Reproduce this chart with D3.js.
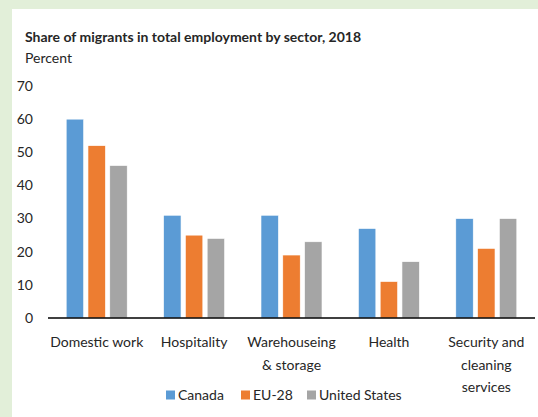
<!DOCTYPE html>
<html>
<head>
<meta charset="utf-8">
<script src="https://cdn.jsdelivr.net/npm/d3@7"></script>
<style>
  body { margin: 0; background: #e2efd9; }
  svg { display: block; }
  text { font-family: Lato, "Open Sans", sans-serif; fill: #262626; }
</style>
</head>
<body>
<script>
var sectors = [["Domestic work"], ["Hospitality"], ["Warehouseing", "& storage"], ["Health"], ["Security and", "cleaning", "services"]];
var seriesNames = ["Canada", "EU-28", "United States"];
var canada = [60, 31, 31, 27, 30];
var eu28 = [52, 25, 19, 11, 21];
var unitedStates = [46, 24, 23, 17, 30];
var yTicks = [0, 10, 20, 30, 40, 50, 60, 70];
var colors = ["#5b9bd5", "#ed7d31", "#a5a5a5"];

var width = 538,
    height = 417;

var svg = d3.select("body")
  .append("svg")
  .attr("width", width)
  .attr("height", height);

svg.append("rect")
    .attr("x", 12)
    .attr("y", 9)
    .attr("width", width - 12)
    .attr("height", height - 9)
    .attr("fill", "#fff");

svg.append("text")
    .attr("x", 25)
    .attr("y", 42)
    .attr("font-size", 14)
    .attr("font-weight", "bold")
    .text("Share of migrants in total employment by sector, 2018");

svg.append("text")
    .attr("x", 25)
    .attr("y", 63)
    .attr("font-size", 14)
    .text("Percent");

var rows = sectors.map(function(s, i) {
  return { label: s, values: [canada[i], eu28[i], unitedStates[i]] };
});

var x0 = d3.scaleBand()
    .domain(d3.range(sectors.length))
    .range([48, 535]);

var x1 = d3.scaleBand()
    .domain(d3.range(seriesNames.length))
    .range([0, 61])
    .paddingInner(0.2);

var y = d3.scaleLinear()
    .domain([0, 70])
    .range([318, 86]);

// y tick labels, no axis line
svg.append("g")
  .selectAll("text")
    .data(yTicks)
  .enter().append("text")
    .attr("x", 33)
    .attr("y", function(d) { return y(d); })
    .attr("dy", "0.35em")
    .attr("text-anchor", "end")
    .attr("font-size", 14)
    .text(function(d) { return d; });

var groups = svg.append("g")
  .selectAll("g")
    .data(rows)
  .enter().append("g")
    .attr("transform", function(d, i) {
      return "translate(" + (x0(i) + x0.bandwidth() / 2 - 30.5) + ",0)";
    });

groups.selectAll("rect")
    .data(function(d) { return d.values; })
  .enter().append("rect")
    .attr("x", function(d, j) { return x1(j); })
    .attr("y", function(d) { return y(d); })
    .attr("width", x1.bandwidth())
    .attr("height", function(d) { return y(0) - y(d); })
    .attr("fill", function(d, j) { return colors[j]; })
    .attr("stroke", "#fff")
    .attr("stroke-width", 0.6);

// baseline
svg.append("line")
    .attr("x1", x0.range()[0])
    .attr("x2", x0.range()[1])
    .attr("y1", y(0))
    .attr("y2", y(0))
    .attr("stroke", "#000")
    .attr("stroke-width", 1.5);

// category labels
var labels = svg.append("g")
  .selectAll("text")
    .data(rows)
  .enter().append("text")
    .attr("text-anchor", "middle")
    .attr("font-size", 14)
    .attr("transform", function(d, i) {
      return "translate(" + (x0(i) + x0.bandwidth() / 2) + ",347)";
    });

labels.selectAll("tspan")
    .data(function(d) { return d.label; })
  .enter().append("tspan")
    .attr("x", 0)
    .attr("y", function(d, k) { return k * 22.5; })
    .text(function(d) { return d; });

// legend
var legendX = [166, 241, 307];
var legend = svg.append("g")
  .selectAll("g")
    .data(seriesNames)
  .enter().append("g")
    .attr("transform", function(d, i) { return "translate(" + legendX[i] + ",395)"; });

legend.append("rect")
    .attr("x", 0)
    .attr("y", -4.5)
    .attr("width", 9)
    .attr("height", 9)
    .attr("fill", function(d, i) { return colors[i]; });

legend.append("text")
    .attr("x", 12)
    .attr("dy", "0.35em")
    .attr("font-size", 14)
    .text(function(d) { return d; });
</script>
</body>
</html>
